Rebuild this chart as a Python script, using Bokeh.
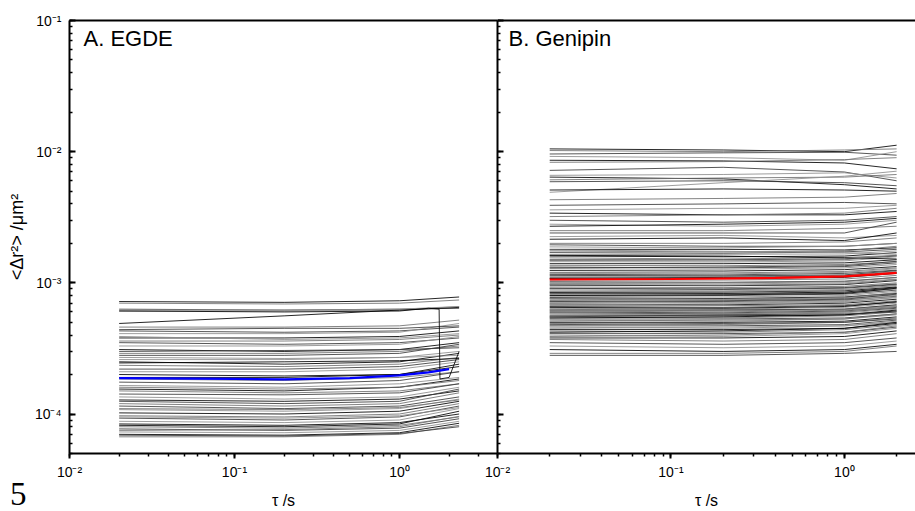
from bokeh.plotting import figure
from bokeh.layouts import row, column
from bokeh.models import Range1d, LogAxis, Label, CustomJSTickFormatter, ColumnDataSource, FixedTicker, Div
from bokeh.embed import file_html
from bokeh.resources import INLINE

# ---------------- data ----------------
# Panel A (EGDE): MSD curves, values in units of 1e-4 um^2, read at these lag times
EGDE_TAU = [0.02, 0.2, 1.0, 2.3]
EGDE_AT_T1 = [7.2, 7.0, 6.3, 6.1, 4.9, 4.6, 4.3, 4.1, 3.8, 3.6, 3.5, 3.3, 3.1, 2.9, 2.8, 2.6, 2.5, 2.35, 2.2, 2.1,
              2.0, 1.85, 1.75, 1.65, 1.55, 1.5, 1.42, 1.35, 1.28, 1.2, 1.15, 1.08, 1.02, 0.97, 0.93, 0.88, 0.84, 0.80, 0.77, 0.73,
              0.70, 0.67, 3.0, 2.7, 1.9, 1.6, 1.25, 0.95, 0.82, 0.75, 4.4, 6.2, 2.45, 1.1, 0.69, 3.9]
EGDE_AT_T2 = [7.1, 6.9, 6.2, 6.1, 5.6, 4.6, 4.2, 4.1, 3.8, 3.6, 3.4, 3.3, 3.0, 2.9, 2.8, 2.6, 2.4, 2.3, 2.2, 2.1,
              1.95, 1.8, 1.7, 1.6, 1.5, 1.45, 1.4, 1.3, 1.25, 1.15, 1.1, 1.05, 1.0, 0.95, 0.9, 0.86, 0.82, 0.78, 0.75, 0.72,
              0.69, 0.67, 3.05, 2.65, 1.9, 1.55, 1.2, 0.93, 0.80, 0.76, 4.5, 6.2, 2.5, 1.08, 0.68, 3.7]
EGDE_AT_T3 = [7.3, 7.0, 6.3, 6.2, 6.2, 4.7, 4.3, 4.2, 3.9, 3.7, 3.5, 3.4, 3.1, 3.0, 2.9, 2.7, 2.5, 2.4, 2.3, 2.2,
              2.0, 1.9, 1.8, 1.7, 1.6, 1.5, 1.45, 1.35, 1.3, 1.2, 1.15, 1.1, 1.05, 1.0, 0.95, 0.9, 0.86, 0.82, 0.78, 0.75,
              0.72, 0.70, 3.1, 2.7, 2.0, 1.6, 1.25, 0.97, 0.84, 0.8, 4.5, 6.3, 2.55, 1.12, 0.71, 3.8]
EGDE_AT_T4 = [7.8, 7.4, 6.4, 6.6, 6.5, 5.2, 4.6, 4.9, 4.3, 4.0, 3.8, 3.9, 3.5, 3.3, 3.4, 3.0, 2.9, 2.7, 2.6, 2.5,
              2.3, 2.1, 2.1, 1.9, 1.85, 1.7, 1.7, 1.6, 1.5, 1.45, 1.35, 1.3, 1.25, 1.2, 1.15, 1.1, 1.0, 0.95, 0.92, 0.88,
              0.85, 0.82, 3.2, 2.8, 2.4, 1.8, 1.55, 1.12, 1.05, 0.96, 4.7, 6.6, 2.65, 1.28, 0.8, 4.1]
EGDE_ODD_TAU = [0.02, 0.2, 1.0, 1.5, 1.74, 1.76, 2.0, 2.3]
EGDE_ODD_MSD = [6.1, 6.0, 6.1, 6.4, 6.3, 1.85, 1.9, 3.0]
EGDE_MEAN_TAU = [0.02, 0.1, 0.2, 0.5, 1.0, 1.5, 2.0]
EGDE_MEAN = [1.88, 1.85, 1.84, 1.88, 1.97, 2.08, 2.2]

# Panel B (Genipin): MSD curves, values in units of 1e-3 um^2
GENIPIN_TAU = [0.02, 0.2, 1.0, 2.0]
GENIPIN_AT_T1 = [10.5, 10.2, 9.6, 9.2, 8.6, 8.3, 7.2, 6.6, 6.4, 6.1,
                 5.9, 4.9, 5.1, 4.3, 3.9, 3.6, 3.4, 3.2, 3.0, 2.8,
                 2.7, 2.5, 2.4, 2.25, 2.15, 2.0, 1.95, 1.88, 1.8, 1.75,
                 1.7, 1.64, 1.6, 1.55, 1.5, 1.45, 1.4, 1.36, 1.32, 1.28,
                 1.24, 1.2, 1.16, 1.12, 1.09, 1.05, 1.02, 0.99, 0.96, 0.93,
                 0.9, 0.88, 0.85, 0.83, 0.81, 0.79, 0.77, 0.75, 0.73, 0.71,
                 0.69, 0.67, 0.66, 0.64, 0.62, 0.61, 0.59, 0.58, 0.56, 0.55,
                 0.53, 0.52, 0.5, 0.49, 0.47, 0.46, 0.44, 0.43, 0.41, 0.4,
                 0.38, 0.37, 0.35, 0.33, 0.31, 0.29, 0.28, 1.78, 1.62, 1.48,
                 1.3, 1.18, 1.08, 0.97, 0.91, 0.86, 0.8, 0.76, 0.72, 0.68,
                 0.65, 0.63, 0.6, 0.57, 0.54, 0.51, 0.48, 0.45, 0.42, 0.39,
                 0.55, 0.7, 0.84, 1.0, 1.14]
GENIPIN_AT_T2 = [10.3, 10.0, 9.8, 9.0, 8.5, 8.4, 7.6, 6.7, 6.2, 6.3,
                 6.0, 5.8, 5.2, 4.4, 4.0, 3.7, 3.3, 3.3, 2.9, 2.7,
                 2.8, 2.5, 2.4, 2.3, 2.2, 2.0, 1.9, 1.85, 1.8, 1.72,
                 1.68, 1.65, 1.58, 1.52, 1.5, 1.44, 1.4, 1.35, 1.3, 1.27,
                 1.23, 1.19, 1.15, 1.12, 1.08, 1.05, 1.01, 0.98, 0.95, 0.92,
                 0.9, 0.87, 0.85, 0.82, 0.8, 0.78, 0.76, 0.74, 0.72, 0.7,
                 0.68, 0.67, 0.65, 0.63, 0.62, 0.6, 0.58, 0.57, 0.56, 0.54,
                 0.53, 0.51, 0.5, 0.48, 0.47, 0.45, 0.44, 0.42, 0.41, 0.39,
                 0.38, 0.36, 0.34, 0.32, 0.3, 0.29, 0.28, 1.74, 1.6, 1.47,
                 1.32, 1.17, 1.1, 0.96, 0.89, 0.86, 0.81, 0.75, 0.73, 0.69,
                 0.64, 0.61, 0.59, 0.58, 0.55, 0.52, 0.49, 0.46, 0.43, 0.4,
                 0.57, 0.71, 0.83, 1.0, 1.13]
GENIPIN_AT_T3 = [10.0, 10.3, 9.9, 8.6, 8.2, 8.7, 7.0, 6.9, 5.6, 6.4,
                 5.8, 6.5, 5.1, 4.5, 4.1, 3.7, 3.3, 3.4, 3.0, 2.8,
                 2.9, 2.6, 2.4, 2.2, 2.1, 2.05, 1.9, 1.9, 1.78, 1.75,
                 1.72, 1.66, 1.6, 1.56, 1.52, 1.47, 1.42, 1.38, 1.33, 1.3,
                 1.26, 1.22, 1.18, 1.14, 1.1, 1.07, 1.03, 1.0, 0.97, 0.94,
                 0.92, 0.89, 0.87, 0.84, 0.82, 0.8, 0.78, 0.76, 0.74, 0.72,
                 0.7, 0.68, 0.67, 0.65, 0.63, 0.62, 0.6, 0.59, 0.57, 0.56,
                 0.54, 0.53, 0.51, 0.5, 0.48, 0.47, 0.45, 0.44, 0.42, 0.41,
                 0.39, 0.37, 0.35, 0.33, 0.31, 0.3, 0.29, 1.7, 1.55, 1.5,
                 1.35, 1.2, 1.12, 0.98, 0.91, 0.88, 0.83, 0.77, 0.75, 0.71,
                 0.66, 0.63, 0.61, 0.6, 0.57, 0.53, 0.5, 0.47, 0.45, 0.42,
                 0.58, 0.73, 0.85, 1.02, 1.15]
GENIPIN_AT_T4 = [11.2, 10.5, 9.4, 10.0, 7.4, 9.0, 6.0, 6.3, 5.2, 6.7,
                 5.5, 7.1, 5.0, 4.8, 4.0, 3.9, 3.5, 3.7, 3.2, 3.0,
                 3.1, 2.7, 2.9, 2.3, 2.4, 2.2, 2.0, 2.0, 1.85, 1.9,
                 1.8, 1.75, 1.7, 1.62, 1.6, 1.58, 1.5, 1.45, 1.42, 1.38,
                 1.33, 1.3, 1.25, 1.22, 1.18, 1.14, 1.1, 1.07, 1.04, 1.0,
                 0.98, 0.95, 0.93, 0.9, 0.88, 0.86, 0.83, 0.81, 0.79, 0.77,
                 0.75, 0.73, 0.71, 0.7, 0.68, 0.66, 0.64, 0.63, 0.61, 0.6,
                 0.58, 0.57, 0.55, 0.54, 0.52, 0.5, 0.49, 0.48, 0.46, 0.45,
                 0.43, 0.41, 0.38, 0.36, 0.34, 0.33, 0.3, 1.65, 1.52, 1.62,
                 1.46, 1.28, 1.2, 1.06, 0.97, 0.96, 0.91, 0.84, 0.82, 0.78,
                 0.72, 0.67, 0.65, 0.66, 0.62, 0.58, 0.53, 0.51, 0.5, 0.47,
                 0.6, 0.8, 0.92, 1.1, 1.24]
GENIPIN_MEAN_TAU = [0.02, 0.1, 0.4, 1.0, 1.5, 2.0]
GENIPIN_MEAN = [1.06, 1.07, 1.09, 1.12, 1.16, 1.19]

EGDE_UNIT = 1e-4
GENIPIN_UNIT = 1e-3

X_TICK_EXP = [-2, -1, 0]
X_TICK_LABELS = ["10\u207b\u00b2", "10\u207b\u00b9", "10\u2070"]
Y_TICK_EXP = [-4, -3, -2, -1]
Y_TICK_LABELS = ["10\u207b\u2074", "10\u207b\u00b3", "10\u207b\u00b2", "10\u207b\u00b9"]

PANEL_TITLES = ["A. EGDE", "B. Genipin"]
X_LABEL = "\u03c4 /s"
Y_LABEL = "<\u0394r\u00b2> /\u03bcm\u00b2"
FIGURE_NUMBER = "5"

# ---------------- styling ----------------
FONT = "Liberation Sans"
H = 511
TOP = 20
BOTTOM = 55
Y_RANGE = (5e-5, 0.1)


def formatter(exps, labels):
    return CustomJSTickFormatter(
        args=dict(labels={str(e): l for e, l in zip(exps, labels)}),
        code="const e = Math.round(Math.log10(tick)); const s = labels[String(e)]; return (s === undefined) ? '' : s;")


def blank_formatter():
    return CustomJSTickFormatter(code="return '';")


def base_fig(width, border_left, x_end, **kw):
    p = figure(width=width, height=H, x_axis_type="log", y_axis_type="log",
               x_range=Range1d(0.01, x_end), y_range=Range1d(*Y_RANGE),
               output_backend="svg", toolbar_location=None,
               min_border_left=border_left, min_border_right=0,
               min_border_top=TOP, min_border_bottom=BOTTOM, **kw)
    p.grid.visible = False
    p.outline_line_color = None
    xa = p.below[0]
    xa.formatter = formatter(X_TICK_EXP, X_TICK_LABELS)
    xa.axis_line_width = 2
    xa.major_tick_in = 0
    xa.major_tick_out = 5
    xa.minor_tick_in = 0
    xa.minor_tick_out = 3
    xa.major_tick_line_width = 2
    xa.minor_tick_line_width = 1.5
    xa.major_label_standoff = 5
    xa.major_label_text_font = FONT
    xa.major_label_text_font_size = "14px"
    xa.major_label_text_color = "black"
    xa.axis_label = X_LABEL
    xa.axis_label_text_font = FONT
    xa.axis_label_text_font_size = "16px"
    xa.axis_label_text_font_style = "normal"
    xa.axis_label_text_color = "black"
    xa.axis_label_standoff = 9
    ya = p.left[0]
    ya.axis_line_width = 2
    ya.major_tick_in = 6
    ya.major_tick_out = 0
    ya.minor_tick_in = 3
    ya.minor_tick_out = 0
    ya.major_tick_line_width = 2
    ya.minor_tick_line_width = 1.5
    top = LogAxis(ticker=FixedTicker(ticks=[]), formatter=blank_formatter(),
                  major_tick_in=0, major_tick_out=0, minor_tick_in=0, minor_tick_out=0,
                  major_label_standoff=0, axis_line_width=2)
    p.add_layout(top, "above")
    return p


def add_curves(p, tau, cols, unit):
    xs, ys, colors = [], [], []
    shades = ["#000000", "#6e6e6e", "#3a3a3a", "#8c8c8c"]
    for i, vals in enumerate(zip(*cols)):
        xs.append(list(tau))
        ys.append([v * unit for v in vals])
        colors.append(shades[i % len(shades)])
    src = ColumnDataSource(dict(xs=xs, ys=ys, c=colors))
    p.multi_line("xs", "ys", source=src, line_color="c", line_width=1.0, line_alpha=0.85)


# Panel A
pA = base_fig(497, 69, 3.93)
ya = pA.left[0]
ya.formatter = formatter(Y_TICK_EXP, Y_TICK_LABELS)
ya.major_label_standoff = 8
ya.major_label_text_font = FONT
ya.major_label_text_font_size = "14px"
ya.major_label_text_color = "black"
ya.axis_label = Y_LABEL
ya.axis_label_text_font = FONT
ya.axis_label_text_font_size = "18px"
ya.axis_label_text_font_style = "normal"
ya.axis_label_text_color = "black"
ya.axis_label_standoff = 5
add_curves(pA, EGDE_TAU, [EGDE_AT_T1, EGDE_AT_T2, EGDE_AT_T3, EGDE_AT_T4], EGDE_UNIT)
pA.line(EGDE_ODD_TAU, [v * EGDE_UNIT for v in EGDE_ODD_MSD], line_color="#000000", line_width=1.0, line_alpha=0.85)
pA.line(EGDE_MEAN_TAU, [v * EGDE_UNIT for v in EGDE_MEAN], line_color="#0000ff", line_width=2.2)
pA.add_layout(Label(x=0.01216, y=0.0731, text=PANEL_TITLES[0], text_font=FONT,
                    text_font_size="22px", text_color="black", text_baseline="alphabetic"))

# Panel B (its left border overlaps the end of panel A, transparently)
OVERLAP = 30
pB = base_fig(OVERLAP + 418, OVERLAP, 2.57, margin=(0, 0, 0, -OVERLAP))
pB.border_fill_color = None
pB.background_fill_color = "white"
yb = pB.left[0]
yb.formatter = blank_formatter()
yb.major_label_standoff = 0
yb.axis_label = None
add_curves(pB, GENIPIN_TAU, [GENIPIN_AT_T1, GENIPIN_AT_T2, GENIPIN_AT_T3, GENIPIN_AT_T4], GENIPIN_UNIT)
pB.line(GENIPIN_MEAN_TAU, [v * GENIPIN_UNIT for v in GENIPIN_MEAN], line_color="#ff0000", line_width=2.2)
pB.add_layout(Label(x=0.01157, y=0.0731, text=PANEL_TITLES[1], text_font=FONT,
                    text_font_size="22px", text_color="black", text_baseline="alphabetic"))

fig_no = Div(text=FIGURE_NUMBER, width=26, height=33, margin=(-33, 0, 0, 10),
             styles={"font-family": "Liberation Serif", "font-size": "33px", "line-height": "1",
                     "color": "black"})

layout = column(row(pA, pB, spacing=0), fig_no, spacing=0)
open("out.html", "w").write(file_html(layout, INLINE))
